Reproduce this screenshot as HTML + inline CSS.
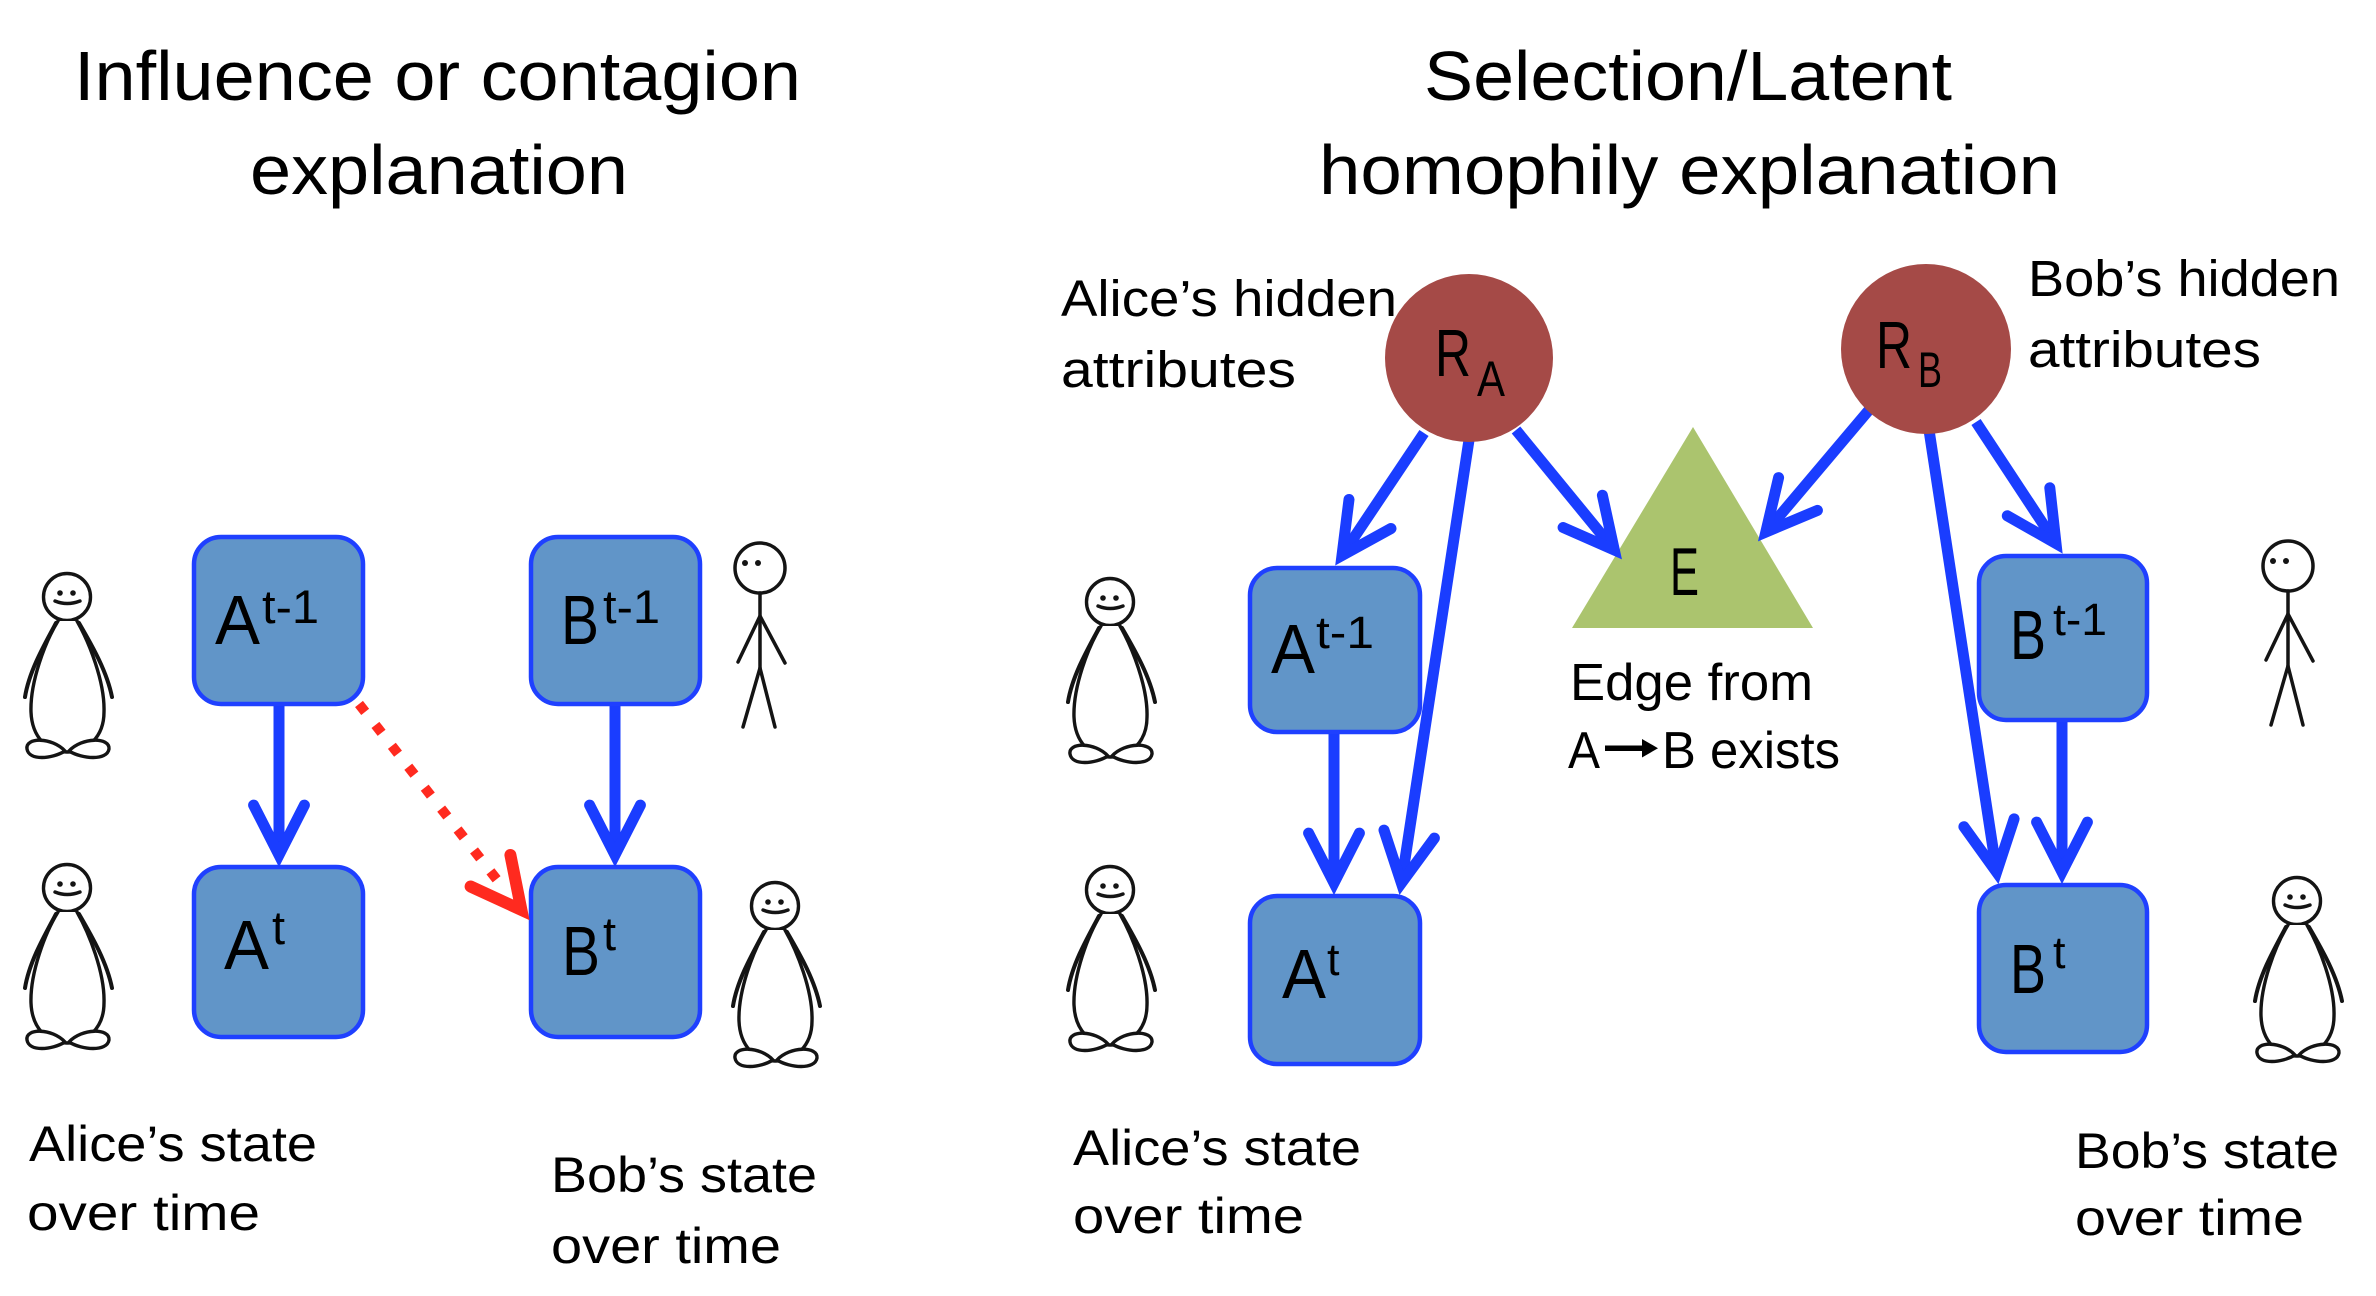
<!DOCTYPE html>
<html>
<head>
<meta charset="utf-8">
<style>
  html,body{margin:0;padding:0;background:#ffffff;}
  svg{display:block;}
  text{font-family:"Liberation Sans", Arial, sans-serif; fill:#000;}
</style>
</head>
<body>
<svg width="2376" height="1296" viewBox="0 0 2376 1296" xmlns="http://www.w3.org/2000/svg">
  <rect x="0" y="0" width="2376" height="1296" fill="#ffffff"/>

  <defs>
    <g id="peng" fill="none" stroke="#141414" stroke-width="3.4" stroke-linecap="round" stroke-linejoin="round">
      <circle cx="0" cy="0" r="23.5" fill="#fff"/>
      <circle cx="-7" cy="-4" r="2.8" fill="#141414" stroke="none"/>
      <circle cx="6" cy="-4" r="2.8" fill="#141414" stroke="none"/>
      <path d="M -12 4 Q 0 9 13 4"/>
      <path d="M -9 24 C -22 45, -37 85, -36 115 C -35 140, -20 155, 0 155 C 20 155, 37 140, 37 115 C 38 85, 22 45, 10 24" fill="#fff"/>
      <path d="M -11 26 C -24 50, -38 75, -42 100" stroke-width="4"/>
      <path d="M 12 26 C 26 50, 40 75, 45 100" stroke-width="4"/>
      <path d="M -2 154 C -15 140, -42 140, -40 152 C -38 164, -15 162, -2 154 Z" fill="#fff"/>
      <path d="M 2 154 C 15 140, 43 140, 42 152 C 40 164, 15 162, 2 154 Z" fill="#fff"/>
    </g>
    <g id="stick" fill="none" stroke="#141414" stroke-width="3.5" stroke-linecap="round" stroke-linejoin="round">
      <circle cx="0" cy="0" r="25" fill="#fff"/>
      <circle cx="-15" cy="-5" r="3" fill="#141414" stroke="none"/>
      <circle cx="-2" cy="-5" r="3" fill="#141414" stroke="none"/>
      <path d="M 0 25 L 0 102"/>
      <path d="M 0 48 L -22 94 M 0 48 L 25 95"/>
      <path d="M 0 100 L -17 159 M 0 100 L 15 159"/>
    </g>
  </defs>

  <!-- ===== Titles ===== -->
  <text x="74" y="100" font-size="70" textLength="727" lengthAdjust="spacingAndGlyphs">Influence or contagion</text>
  <text x="250" y="194" font-size="70" textLength="378" lengthAdjust="spacingAndGlyphs">explanation</text>
  <text x="1424" y="100" font-size="70" textLength="528" lengthAdjust="spacingAndGlyphs">Selection/Latent</text>
  <text x="1319" y="194" font-size="70" textLength="741" lengthAdjust="spacingAndGlyphs">homophily explanation</text>

  <!-- ===== Left panel boxes ===== -->
  <g fill="#6195c8" stroke="#1f40ff" stroke-width="4.5">
    <rect x="194" y="537" width="169" height="167" rx="27"/>
    <rect x="531" y="537" width="169" height="167" rx="27"/>
    <rect x="194" y="867" width="169" height="170" rx="27"/>
    <rect x="531" y="867" width="169" height="170" rx="27"/>
    <!-- right panel boxes -->
    <rect x="1250" y="568" width="170" height="164" rx="27"/>
    <rect x="1250" y="896" width="170" height="168" rx="27"/>
    <rect x="1979" y="556" width="168" height="164" rx="27"/>
    <rect x="1979" y="885" width="168" height="167" rx="27"/>
  </g>

  <!-- box labels left -->
  <text x="215" y="644" font-size="70" textLength="45" lengthAdjust="spacingAndGlyphs">A</text>
  <text x="262" y="623" font-size="47" textLength="57" lengthAdjust="spacingAndGlyphs">t-1</text>
  <text x="561" y="644" font-size="70" textLength="38" lengthAdjust="spacingAndGlyphs">B</text>
  <text x="603" y="623" font-size="47" textLength="57" lengthAdjust="spacingAndGlyphs">t-1</text>
  <text x="224" y="969" font-size="70" textLength="45" lengthAdjust="spacingAndGlyphs">A</text>
  <text x="272" y="944" font-size="47">t</text>
  <text x="562" y="975" font-size="70" textLength="38" lengthAdjust="spacingAndGlyphs">B</text>
  <text x="603" y="950" font-size="47">t</text>

  <!-- box labels right -->
  <text x="1271" y="673" font-size="70" textLength="44" lengthAdjust="spacingAndGlyphs">A</text>
  <text x="1316" y="648" font-size="45" textLength="58" lengthAdjust="spacingAndGlyphs">t-1</text>
  <text x="1282" y="998" font-size="70" textLength="44" lengthAdjust="spacingAndGlyphs">A</text>
  <text x="1327" y="975" font-size="45">t</text>
  <text x="2010" y="659" font-size="70" textLength="36" lengthAdjust="spacingAndGlyphs">B</text>
  <text x="2053" y="635" font-size="45" textLength="54" lengthAdjust="spacingAndGlyphs">t-1</text>
  <text x="2010" y="993" font-size="70" textLength="36" lengthAdjust="spacingAndGlyphs">B</text>
  <text x="2053" y="968" font-size="45">t</text>

  <!-- ===== Triangle E ===== -->
  <polygon points="1693,427 1572,628 1813,628" fill="#abc46e"/>
  <text x="1670" y="595" font-size="68" textLength="29" lengthAdjust="spacingAndGlyphs">E</text>

  <!-- ===== Blue arrows ===== -->
  <g stroke="#1a3dff" stroke-width="11" fill="none" stroke-linecap="butt">
    <!-- left vertical arrows -->
    <line x1="279" y1="706" x2="279" y2="855"/>
    <line x1="615" y1="706" x2="615" y2="855"/>
    <!-- right -->
    <line x1="1424" y1="433" x2="1342" y2="555.5"/>
    <line x1="1469" y1="440" x2="1401.4" y2="883.1"/>
    <line x1="1516" y1="430" x2="1614.3" y2="550"/>
    <line x1="1869" y1="410" x2="1765.8" y2="532.1"/>
    <line x1="1976" y1="422" x2="2056" y2="543.5"/>
    <line x1="1929" y1="430" x2="1996.6" y2="872.1"/>
    <line x1="1334" y1="734" x2="1334" y2="883"/>
    <line x1="2062" y1="722" x2="2062" y2="872"/>
  </g>
  <g stroke="#1a3dff" stroke-width="11" fill="none" stroke-linecap="round" stroke-linejoin="miter" stroke-miterlimit="10">
    <polyline points="253.6,805.1 279,855 304.4,805.1"/>
    <polyline points="589.6,805.1 615,855 640.4,805.1"/>
    <polyline points="1349,499.5 1342,555.5 1391,528.5"/>
    <polyline points="1384,830.1 1401.4,883.1 1434.4,838.1"/>
    <polyline points="1602.4,495.3 1614.3,550 1563.1,527.5"/>
    <polyline points="1817.4,510.4 1765.8,532.1 1778.6,477.6"/>
    <polyline points="2049.8,487.8 2056,543.5 2007.3,515.8"/>
    <polyline points="2014.1,818.9 1996.6,872.1 1963.9,826.7"/>
    <polyline points="1308.6,833.1 1334,883 1359.4,833.1"/>
    <polyline points="2036.6,822.1 2062,872 2087.4,822.1"/>
  </g>

  <!-- ===== Red dotted arrow ===== -->
  <line x1="359" y1="704" x2="498" y2="881" stroke="#ff2a1f" stroke-width="10" stroke-dasharray="10 16.6" fill="none"/>
  <polyline points="510.4,855 521.4,909.9 470.6,886.5" stroke="#ff2a1f" stroke-width="12" fill="none" stroke-linecap="round" stroke-linejoin="miter" stroke-miterlimit="10"/>

  <!-- ===== Circles ===== -->
  <circle cx="1469" cy="358" r="84" fill="#a54a47"/>
  <circle cx="1926" cy="349" r="85" fill="#a54a47"/>
  <text x="1435" y="376" font-size="67" textLength="36" lengthAdjust="spacingAndGlyphs">R</text>
  <text x="1477" y="396" font-size="50" textLength="28" lengthAdjust="spacingAndGlyphs">A</text>
  <text x="1876" y="368" font-size="67" textLength="36" lengthAdjust="spacingAndGlyphs">R</text>
  <text x="1918" y="387" font-size="50" textLength="24" lengthAdjust="spacingAndGlyphs">B</text>

  <!-- ===== Labels ===== -->
  <text x="1061" y="316" font-size="51" textLength="336" lengthAdjust="spacingAndGlyphs">Alice’s hidden</text>
  <text x="1061" y="387" font-size="51" textLength="235" lengthAdjust="spacingAndGlyphs">attributes</text>
  <text x="2028" y="296" font-size="51" textLength="312" lengthAdjust="spacingAndGlyphs">Bob’s hidden</text>
  <text x="2028" y="367" font-size="51" textLength="233" lengthAdjust="spacingAndGlyphs">attributes</text>

  <text x="1570" y="700" font-size="52" textLength="243" lengthAdjust="spacingAndGlyphs">Edge from</text>
  <text x="1568" y="768" font-size="52" textLength="32" lengthAdjust="spacingAndGlyphs">A</text>
  <g fill="#000">
    <rect x="1605" y="745.5" width="40" height="5.5"/>
    <polygon points="1642,739 1658,748.2 1642,757.5"/>
  </g>
  <text x="1662" y="768" font-size="52" textLength="178" lengthAdjust="spacingAndGlyphs">B exists</text>

  <text x="29" y="1161" font-size="50" textLength="288" lengthAdjust="spacingAndGlyphs">Alice’s state</text>
  <text x="27" y="1230" font-size="50" textLength="233" lengthAdjust="spacingAndGlyphs">over time</text>
  <text x="551" y="1192" font-size="50" textLength="266" lengthAdjust="spacingAndGlyphs">Bob’s state</text>
  <text x="551" y="1263" font-size="50" textLength="230" lengthAdjust="spacingAndGlyphs">over time</text>

  <text x="1073" y="1165" font-size="50" textLength="288" lengthAdjust="spacingAndGlyphs">Alice’s state</text>
  <text x="1073" y="1233" font-size="50" textLength="231" lengthAdjust="spacingAndGlyphs">over time</text>
  <text x="2075" y="1168" font-size="50" textLength="264" lengthAdjust="spacingAndGlyphs">Bob’s state</text>
  <text x="2075" y="1235" font-size="50" textLength="229" lengthAdjust="spacingAndGlyphs">over time</text>

  <!-- ===== Figures ===== -->
  <use href="#peng" x="67" y="597"/>
  <use href="#peng" x="67" y="888"/>
  <use href="#peng" x="775" y="906"/>
  <use href="#peng" x="1110" y="602"/>
  <use href="#peng" x="1110" y="890"/>
  <use href="#peng" x="2297" y="901"/>
  <use href="#stick" x="760" y="568"/>
  <use href="#stick" x="2288" y="566"/>
</svg>
</body>
</html>
